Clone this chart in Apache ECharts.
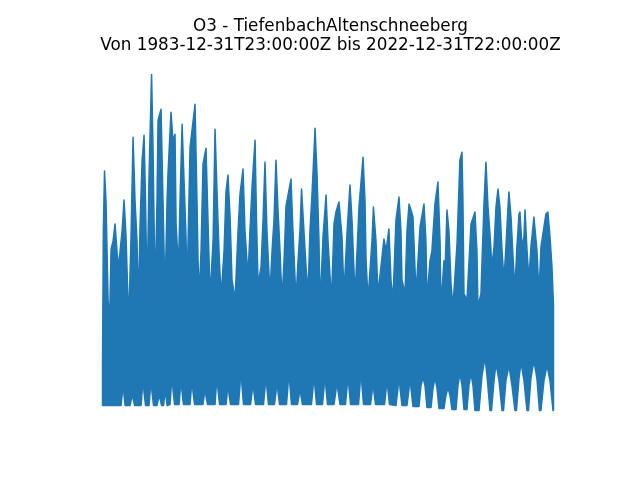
<!DOCTYPE html>
<html>
<head>
<meta charset="utf-8">
<script src="https://cdn.jsdelivr.net/npm/echarts@6/dist/echarts.min.js"></script>
<style>html,body{margin:0;padding:0;background:#fff;}#chart{width:640px;height:480px;}</style>
</head>
<body>
<div id="chart"></div>
<script>
// Upper envelope of hourly O3 (decimal year, value)
const upperYears = [1984.00,1984.07,1984.17,1984.30,1984.48,1984.61,1984.74,1984.91,1985.08,1985.25,1985.38,1985.51,1985.69,1985.86,1986.03,1986.20,1986.29,1986.46,1986.64,1986.81,1986.98,1987.11,1987.24,1987.42,1987.59,1987.72,1987.85,1988.02,1988.24,1988.37,1988.54,1988.71,1988.80,1989.06,1989.23,1989.40,1989.58,1989.66,1989.92,1990.10,1990.27,1990.36,1990.57,1990.70,1990.88,1991.05,1991.22,1991.31,1991.57,1992.00,1992.17,1992.26,1992.35,1992.52,1992.69,1992.95,1993.12,1993.30,1993.56,1993.73,1993.90,1994.07,1994.25,1994.51,1994.68,1994.85,1995.03,1995.20,1995.46,1995.72,1995.89,1996.15,1996.32,1996.58,1996.75,1996.93,1997.19,1997.32,1997.45,1997.71,1997.88,1998.05,1998.22,1998.48,1998.66,1998.83,1999.00,1999.18,1999.35,1999.52,1999.70,1999.87,2000.30,2000.47,2000.73,2000.91,2001.08,2001.21,2001.42,2001.60,2001.77,2001.94,2002.12,2002.38,2002.55,2002.72,2002.81,2003.07,2003.33,2003.50,2003.80,2004.02,2004.19,2004.45,2004.71,2004.88,2005.14,2005.40,2005.58,2005.84,2006.18,2006.53,2006.70,2006.79,2006.96,2007.31,2007.43,2007.65,2007.82,2008.08,2008.34,2008.52,2008.77,2008.95,2009.12,2009.38,2009.64,2009.81,2009.90,2010.16,2010.33,2010.51,2010.68,2010.85,2011.11,2011.46,2011.80,2011.97,2012.06,2012.32,2012.49,2012.75,2013.01,2013.19,2013.27,2013.53,2013.62,2013.79,2013.96,2014.14,2014.31,2014.66,2014.91,2015.09,2015.17,2015.26,2015.52,2015.87,2016.21,2016.38,2016.47,2016.73,2016.99,2017.16,2017.34,2017.51,2017.68,2017.86,2018.03,2018.20,2018.37,2018.55,2018.72,2018.89,2019.07,2019.15,2019.33,2019.50,2019.67,2019.84,2020.02,2020.10,2020.28,2020.45,2020.54,2020.71,2020.88,2021.05,2021.23,2021.31,2021.57,2021.75,2021.92,2022.18,2022.35,2022.52,2022.70,2022.87,2023.00];
const upperValues = [50,181,240,210,110,90,162,170,187,160,142,159,180,211,175,110,100,172,274,210,170,105,184,250,276,210,114,234,337,260,117,210,291,302,210,114,210,237,299,270,277,187,142,210,287,230,174,122,264,307,210,151,114,160,247,263,190,114,170,282,220,160,114,160,220,236,194,131,111,180,217,242,180,134,180,224,271,190,127,144,191,249,180,117,160,191,251,200,160,111,150,205,232,180,111,150,181,222,180,144,117,180,217,283,237,170,104,174,216,170,110,187,199,209,174,117,177,226,190,114,204,254,210,151,111,171,204,170,117,144,172,160,182,130,111,191,214,180,131,117,180,207,201,194,117,184,207,170,111,150,160,207,229,170,104,150,138,201,180,127,104,167,251,259,210,117,111,187,199,160,104,117,207,249,204,177,144,164,204,222,204,160,131,164,204,219,194,154,122,164,197,199,164,174,201,161,131,164,184,194,161,117,164,184,197,199,174,144,107];
// Lower envelope of hourly O3 (decimal year, value)
const lowerYears = [1984.00,1985.60,1985.69,1985.77,1985.86,1985.95,1986.38,1986.51,1986.55,1986.64,1986.77,1987.33,1987.42,1987.50,1987.59,1987.72,1988.02,1988.11,1988.19,1988.28,1988.41,1988.71,1988.84,1988.89,1988.97,1989.10,1989.28,1989.36,1989.40,1989.49,1989.58,1989.84,1989.92,1990.01,1990.10,1990.23,1990.62,1990.70,1990.79,1990.88,1991.00,1991.57,1991.65,1991.74,1991.83,1991.96,1992.69,1992.78,1992.86,1992.95,1993.08,1993.73,1993.81,1993.90,1993.99,1994.12,1994.68,1994.77,1994.85,1994.94,1995.07,1995.76,1995.89,1995.98,1996.06,1996.19,1996.80,1996.93,1997.01,1997.10,1997.23,1997.92,1998.05,1998.14,1998.22,1998.35,1998.87,1999.00,1999.09,1999.18,1999.31,1999.91,2000.04,2000.13,2000.21,2000.34,2000.86,2000.99,2001.08,2001.17,2001.29,2002.07,2002.20,2002.29,2002.38,2002.51,2003.02,2003.15,2003.24,2003.33,2003.46,2004.02,2004.19,2004.28,2004.36,2004.54,2005.01,2005.14,2005.23,2005.32,2005.45,2006.14,2006.27,2006.35,2006.44,2006.57,2007.18,2007.31,2007.39,2007.48,2007.61,2008.39,2008.52,2008.60,2008.69,2008.82,2009.38,2009.55,2009.64,2009.73,2009.90,2010.33,2010.51,2010.59,2010.68,2010.85,2011.37,2011.54,2011.72,2011.89,2012.06,2012.41,2012.58,2012.75,2012.93,2013.10,2013.53,2013.70,2013.88,2014.05,2014.22,2014.57,2014.74,2014.91,2015.09,2015.26,2015.52,2015.69,2015.87,2016.04,2016.21,2016.56,2016.82,2017.08,2017.25,2017.51,2017.64,2017.86,2018.03,2018.29,2018.55,2018.68,2018.89,2019.15,2019.41,2019.67,2019.80,2020.02,2020.19,2020.45,2020.71,2020.84,2021.05,2021.31,2021.57,2021.79,2021.92,2022.18,2022.44,2022.70,2022.96,2023.00];
const lowerValues = [5,5,15,30,15,5,5,12,22,12,5,5,18,35,18,5,5,18,35,18,5,5,12,20,12,5,5,14,25,14,5,6,20,37,20,6,6,18,33,18,6,6,18,33,18,6,6,14,25,14,6,6,20,35,20,6,6,16,30,16,6,6,25,48,25,6,6,18,32,18,6,6,22,38,22,6,6,18,32,18,6,6,25,43,25,6,6,14,25,14,6,6,22,38,22,6,6,22,38,22,6,6,20,33,20,6,6,22,38,22,6,6,25,45,25,6,6,18,33,18,6,6,20,35,20,6,5,22,38,22,5,5,22,37,22,4,4,25,33,25,3,3,22,33,22,2,2,15,23,15,1,1,25,37,25,1,1,25,37,25,0,0,35,53,35,0,0,30,47,30,0,0,30,45,25,0,0,32,48,30,0,0,32,50,32,0,0,30,45,30,0,0];

const titleLines = ['O3 - TiefenbachAltenschneeberg', 'Von 1983-12-31T23:00:00Z bis 2022-12-31T22:00:00Z'];

const upperData = upperYears.map((t, i) => [t, upperValues[i]]);
const lowerData = lowerYears.map((t, i) => [t, lowerValues[i]]);

const vMin = Math.min(...lowerValues), vMax = Math.max(...upperValues);
const tMin = upperYears[0], tMax = upperYears[upperYears.length - 1];
const padY = (vMax - vMin) * 0.05, padX = (tMax - tMin) * 0.05;
const blue = '#1f77b4';

const chart = echarts.init(document.getElementById('chart'), null, {renderer: 'canvas'});
chart.setOption({
  animation: false,
  backgroundColor: '#ffffff',
  title: {
    text: titleLines.join('\n'),
    left: 325.5,
    top: 12,
    textAlign: 'center',
    textStyle: {fontFamily: 'DejaVu Sans', fontSize: 16.8, fontWeight: 'normal', color: '#000', lineHeight: 19}
  },
  grid: {left: 80, right: 64, top: 57.6, bottom: 52.8, containLabel: false},
  xAxis: {type: 'value', min: tMin - padX, max: tMax + padX, show: false},
  yAxis: {type: 'value', min: vMin - padY, max: vMax + padY, show: false},
  series: [
    {
      // band between the lower and upper envelopes of the hourly values
      type: 'custom',
      coordinateSystem: 'cartesian2d',
      clip: false,
      data: [[tMin, vMin]],
      renderItem: function (params, api) {
        const pts = upperData.map(d => api.coord(d))
          .concat(lowerData.slice().reverse().map(d => api.coord(d)));
        return {
          type: 'polygon',
          shape: {points: pts},
          style: {fill: blue, stroke: blue, lineWidth: 1.5, lineJoin: 'round'}
        };
      }
    }
  ]
});
</script>
</body>
</html>
